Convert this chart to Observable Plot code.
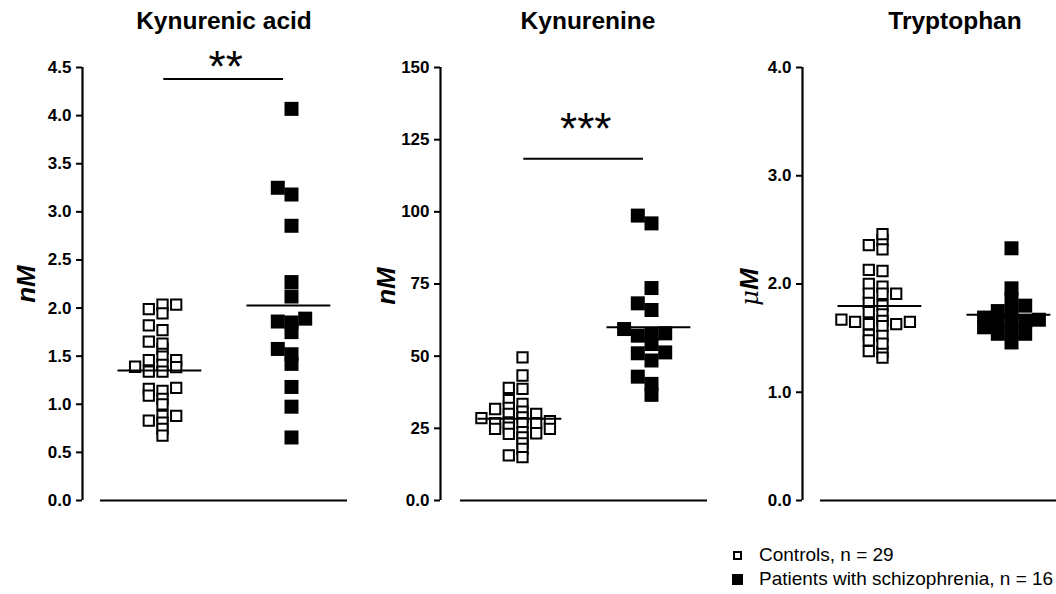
<!DOCTYPE html>
<html>
<head>
<meta charset="utf-8">
<script src="https://cdn.jsdelivr.net/npm/d3@7"></script>
<script src="https://cdn.jsdelivr.net/npm/@observablehq/plot@0.6"></script>
<style>
  html, body { margin: 0; padding: 0; background: #fff; overflow: hidden; width: 1056px; height: 594px; }
  #wrap { position: relative; width: 1080px; height: 594px; font-family: "Liberation Sans", Arial, sans-serif; color: #000; }
  .title { position: absolute; top: 9px; width: 300px; text-align: center; font-weight: bold; font-size: 24.5px; line-height: 24px; white-space: nowrap; }
  .ylab { position: absolute; width: 80px; height: 30px; line-height: 30px; text-align: center; font-size: 26px; font-weight: bold; font-style: italic; transform: rotate(-90deg); white-space: nowrap; }
  .ylab .mu { font-weight: normal; font-family: "DejaVu Serif", serif; font-style: italic; font-size: 24px; }
  .leg { position: absolute; left: 732px; font-size: 19px; line-height: 20px; white-space: nowrap; }
  .leg .sw { position: absolute; box-sizing: border-box; }
  .leg .tx { position: absolute; left: 27px; top: 0; }
</style>
</head>
<body>
<div id="wrap"></div>
<script>
// ---------------- data ----------------
const panels = ["Kynurenic acid", "Kynurenine", "Tryptophan"];
const units = ["nM", "nM", "μM"];
const groups = ["Controls", "Patients with schizophrenia"];
const legendLabels = ["Controls, n = 29", "Patients with schizophrenia, n = 16"];

const kynaControls = [2.035, 1.945, 1.99, 2.035, 1.77, 1.82, 1.575, 1.63, 1.65, 1.495, 1.46, 1.46, 1.41, 1.385,
  1.34, 1.34, 1.39, 1.16, 1.09, 1.14, 1.17, 1.055, 1.00, 0.88, 0.81, 0.83, 0.88, 0.745, 0.675];
const kynaPatients = [4.07, 3.25, 3.18, 2.855, 2.27, 2.12, 1.89, 1.85, 1.86, 1.75, 1.575, 1.52, 1.42, 1.18, 0.975, 0.655];

const kynControls = [49.6, 43.3, 39.0, 38.7, 34.8, 33.5, 32.1, 31.7, 30.8, 30.0, 30.0, 28.8, 27.1, 26.8, 26.8,
  27.5, 26.8, 25.2, 24.8, 24.8, 23.7, 23.1, 23.3, 21.9, 19.8, 17.9, 15.0, 15.6, 28.5];
const kynPatients = [98.7, 96.0, 73.6, 68.3, 66.0, 59.4, 57.9, 57.1, 57.7, 54.2, 51.3, 51.0, 48.5, 42.9, 40.4, 36.6];

const trpControls = [2.406, 2.46, 2.32, 2.36, 2.13, 2.12, 1.975, 2.0, 1.91, 1.91, 1.91, 1.825, 1.80, 1.74, 1.72,
  1.65, 1.67, 1.66, 1.63, 1.61, 1.63, 1.65, 1.52, 1.53, 1.48, 1.38, 1.37, 1.45, 1.32];
const trpPatients = [2.33, 1.96, 1.86, 1.80, 1.75, 1.74, 1.66, 1.69, 1.65, 1.67, 1.64, 1.54, 1.55, 1.54, 1.46, 1.60];

const seriesByPanel = [[kynaControls, kynaPatients], [kynControls, kynPatients], [trpControls, trpPatients]];
const yMax = [4.5, 150, 4.0];
const yTicks = [[0, 0.5, 1, 1.5, 2, 2.5, 3, 3.5, 4, 4.5], [0, 25, 50, 75, 100, 125, 150], [0, 1, 2, 3, 4]];
const yTickLabels = [["0.0", "0.5", "1.0", "1.5", "2.0", "2.5", "3.0", "3.5", "4.0", "4.5"],
  ["0.0", "25", "50", "75", "100", "125", "150"], ["0.0", "1.0", "2.0", "3.0", "4.0"]];
const sigLevel = [4.38, 118.4, null];
const sigLabel = ["**", "***", null];

// ---------------- layout constants ----------------
const W = 360, H = 520, MT = 67, MB = 20, MR = 13;
const marginLefts = [82, 80, 82];
const g0px = 162, unitPx = 129;           // group 0 centre and spacing (px in svg)
const colStep = 13.7 / unitPx;            // column spacing in x units
const titleCenters = [224, 588, 955];
const ylabCenters = [[26, 284], [386, 286], [749, 287]];
const starDy = [3, -15, 0];

// Prism-like column scatter: greedy, ascending
function scatter(values, gi, pxPerUnit, thr) {
  const order = d3.range(values.length).sort((a, b) => values[a] - values[b]);
  const placed = [];
  const out = new Array(values.length);
  const cands = [0, -1, 1, -2, 2, -3, 3, -4, 4];
  for (const i of order) {
    const v = values[i];
    const c = cands.find(c => placed.every(p => p.c !== c || Math.abs(p.v - v) * pxPerUnit >= thr));
    placed.push({c, v});
    out[i] = {value: v, group: gi, x: gi + c * colStep};
  }
  return out;
}

const root = document.getElementById("wrap");

panels.forEach((name, i) => {
  const mL = marginLefts[i];
  const xmin = (mL - g0px) / unitPx;
  const xmax = (W - MR - g0px) / unitPx;
  const pxPerUnit = (H - MT - MB) / yMax[i];
  const [ctrl, pat] = seriesByPanel[i];
  const ctrlPts = scatter(ctrl, 0, pxPerUnit, 5);
  const patPts = scatter(pat, 1, pxPerUnit, 9);
  const means = [{g: 0, m: d3.mean(ctrl)}, {g: 1, m: d3.mean(pat)}];
  const labelMap = new Map(yTicks[i].map((t, k) => [t, yTickLabels[i][k]]));
  const sig = sigLevel[i] == null ? [] : [{y: sigLevel[i], label: sigLabel[i]}];

  const svg = Plot.plot({
    width: W, height: H,
    marginLeft: mL, marginRight: MR, marginTop: MT, marginBottom: MB,
    style: {fontFamily: "Liberation Sans, Arial, sans-serif", fontSize: "17px", fontWeight: "bold", background: "transparent", color: "black"},
    x: {domain: [xmin, xmax], axis: null},
    y: {domain: [0, yMax[i]]},
    marks: [
      Plot.axisY(yTicks[i], {tickSize: 6, tickPadding: 5, fontSize: 17, fontWeight: "bold",
        strokeWidth: 2, tickFormat: d => labelMap.get(d), label: null}),
      Plot.ruleX([xmin], {y1: 0, y2: yMax[i], strokeWidth: 2.2}),
      Plot.ruleY([0], {insetLeft: 100 - mL, strokeWidth: 2}),
      Plot.dot(ctrlPts, {x: "x", y: "value", symbol: "square", r: 5.8, fill: "white", stroke: "black", strokeWidth: 2}),
      Plot.dot(patPts, {x: "x", y: "value", symbol: "square", r: 7.9, fill: "black", stroke: "none"}),
      Plot.ruleY(means, {y: "m", x1: d => d.g - 0.345, x2: d => d.g + 0.305, strokeWidth: 2}),
      Plot.ruleY(sig, {y: "y", x1: () => 0.01, x2: () => 1, insetRight: 8, strokeWidth: 2}),
      Plot.text(sig, {x: () => 0.49, y: "y", text: "label", lineAnchor: "bottom", dy: starDy[i],
        fontSize: 44, fontWeight: "normal"})
    ]
  });
  svg.style.position = "absolute";
  svg.style.left = (W * i) + "px";
  svg.style.top = "0px";
  root.appendChild(svg);

  const t = document.createElement("div");
  t.className = "title";
  t.style.left = (titleCenters[i] - 150) + "px";
  t.textContent = name;
  root.appendChild(t);

  const yl = document.createElement("div");
  yl.className = "ylab";
  yl.style.left = (ylabCenters[i][0] - 40) + "px";
  yl.style.top = (ylabCenters[i][1] - 15) + "px";
  const u = units[i];
  if (u.startsWith("μ")) {
    const mu = document.createElement("span");
    mu.className = "mu";
    mu.textContent = "μ";
    yl.appendChild(mu);
    yl.appendChild(document.createTextNode(u.slice(1)));
  } else {
    yl.textContent = u;
  }
  root.appendChild(yl);
});

// legend
legendLabels.forEach((lab, k) => {
  const row = document.createElement("div");
  row.className = "leg";
  row.style.top = (k === 0 ? 545 : 569) + "px";
  const sw = document.createElement("span");
  sw.className = "sw";
  if (k === 0) {
    Object.assign(sw.style, {left: "1px", top: "6px", width: "9px", height: "9px", border: "2px solid black", background: "white"});
  } else {
    Object.assign(sw.style, {left: "0px", top: "5px", width: "11px", height: "11px", background: "black"});
  }
  const tx = document.createElement("span");
  tx.className = "tx";
  tx.textContent = lab;
  row.appendChild(sw);
  row.appendChild(tx);
  root.appendChild(row);
});
</script>
</body>
</html>
